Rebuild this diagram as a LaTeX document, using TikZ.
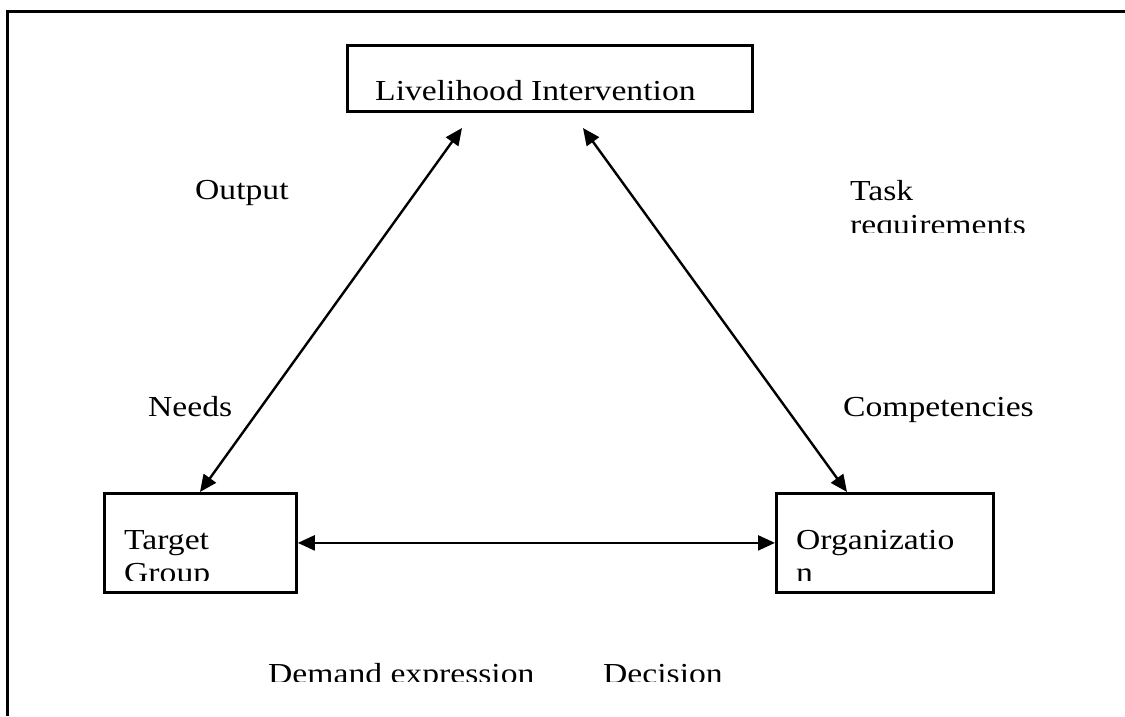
\documentclass[tikz,border=0pt]{standalone}
\usepackage{fontspec}
\setmainfont{Liberation Serif}[FakeStretch=1.16]
\usetikzlibrary{arrows.meta}
\begin{document}
\begin{tikzpicture}[x=1pt,y=-1pt,
  boxstyle/.style={draw,line width=2.8pt,inner sep=0pt,anchor=north west},
  lbl/.style={anchor=base west,inner sep=0pt,font=\fontsize{29}{33}\selectfont},
  conn/.style={line width=2.4pt,{Triangle[length=17pt,width=15pt]}-{Triangle[length=17pt,width=15pt]}}]
\useasboundingbox (0,0) rectangle (1125,716);
% frame
\draw[line width=3pt] (7,716) -- (7,11) -- (1125,11);
% boxes
\node[boxstyle,minimum width=405pt,minimum height=66pt] (top) at (346,44) {};
\node[boxstyle,minimum width=192pt,minimum height=99pt] (tg) at (103,492) {};
\node[boxstyle,minimum width=217pt,minimum height=99pt] (org) at (775,492) {};
% box texts (clipped)
\begin{scope}
\clip (346,44) rectangle (751,102);
\node[lbl] (toptext) at (375,100) {Livelihood Intervention};
\end{scope}
\begin{scope}
\clip (103,492) rectangle (295,580);
\node[lbl] (tgtext) at (124,549) {Target};
\node[lbl] (tgtext2) at (124,582) {Group};
\end{scope}
\begin{scope}
\clip (775,492) rectangle (992,580);
\node[lbl] (orgtext) at (796,549) {Organizatio};
\node[lbl] (orgtext2) at (796,582) {n};
\end{scope}
% arrow ends
\coordinate (a1) at (462,128);
\coordinate (a2) at (583,128);
\coordinate (b1) at (tg.north west -| 200,0);
\coordinate (b2) at (org.north west -| 847,0);
\draw[conn] (b1) -- (a1);
\draw[conn] (a2) -- (b2);
\draw[conn] (tg.east) -- (org.west);
% labels
\node[lbl] (output) at (195,199) {Output};
\node[lbl] (task) at (850,200) {Task};
\begin{scope}
\clip (840,205) rectangle (1060,232);
\node[lbl] (req) at (850,234) {requirements};
\end{scope}
\node[lbl] (needs) at (148,416) {Needs};
\node[lbl] (comp) at (843,416) {Competencies};
\begin{scope}
\clip (250,640) rectangle (760,681);
\node[lbl] (demand) at (268,683) {Demand expression};
\node[lbl] (decision) at (603,683) {Decision};
\end{scope}
\end{tikzpicture}
\end{document}
